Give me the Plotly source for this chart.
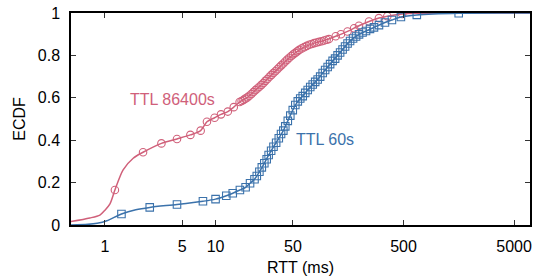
import plotly.graph_objects as go

# ---- data (RTT in ms, ECDF) ----
# TTL 86400s : smooth curve knots
red_line_x = [0.49, 0.73, 0.9, 1.0, 1.11, 1.23, 1.46, 1.8, 2.21, 3.24, 4.48, 5.92, 7.33, 8.36, 9.8,
              11.2, 12.9, 14.6, 16.5, 19.4, 22.9, 27.1, 32.0, 37.7, 44.5, 52.6, 63.4, 78.0, 95.9,
              122, 156, 198, 244, 300, 357, 487, 650, 7000]
red_line_y = [0.016, 0.033, 0.047, 0.07, 0.10, 0.165, 0.26, 0.315, 0.343, 0.385, 0.406, 0.425, 0.445,
              0.487, 0.506, 0.522, 0.535, 0.556, 0.58, 0.602, 0.636, 0.67, 0.708, 0.744, 0.78, 0.812,
              0.839, 0.858, 0.87, 0.89, 0.913, 0.94, 0.96, 0.976, 0.985, 0.995, 0.999, 1.0]
# TTL 86400s : marker positions
red_mark_x = [1.23, 2.21, 3.24, 4.48, 5.92, 7.33, 8.36, 9.8, 11.2, 12.9, 14.6,
              16.5, 17.2, 17.9, 18.6, 19.4, 20.2, 21.1, 22.0, 22.9, 23.9, 24.9, 26.0, 27.1, 28.2,
              29.4, 30.7, 32.0, 33.3, 34.7, 36.2, 37.7, 39.3, 41.0, 42.7, 44.5, 46.4, 48.4, 50.4,
              52.6, 54.8, 57.1, 60.2, 63.4, 66.8, 70.3, 74.0, 78.0, 82.1, 86.5, 91.1, 95.9, 101,
              106, 122, 136, 156, 179, 198, 244, 300, 357, 487]
red_mark_y = [0.165, 0.343, 0.385, 0.406, 0.425, 0.445, 0.487, 0.506, 0.522, 0.535, 0.556,
              0.58, 0.585, 0.59, 0.596, 0.602, 0.61, 0.618, 0.627, 0.636, 0.644, 0.652, 0.661, 0.67,
              0.68, 0.689, 0.699, 0.708, 0.717, 0.725, 0.735, 0.744, 0.753, 0.762, 0.771, 0.78,
              0.789, 0.797, 0.805, 0.812, 0.819, 0.826, 0.833, 0.839, 0.845, 0.85, 0.854, 0.858,
              0.861, 0.864, 0.867, 0.87, 0.874, 0.877, 0.89, 0.9, 0.913, 0.928, 0.94, 0.96,
              0.976, 0.985, 0.995]

# TTL 60s : smooth curve knots
blue_line_x = [0.49, 0.7, 0.85, 1.04, 1.41, 1.9, 2.54, 4.48, 7.69, 10.0, 12.5, 14.3, 16.6, 18.7, 20.5,
               22.5, 24.9, 27.6, 30.2, 33.4, 37.3, 41.0, 45.0, 49.9, 55.4, 61.4, 68.1, 75.6, 83.8,
               93.0, 103.2, 114.4, 126.9, 140.8, 156.2, 175.1, 198.3, 229.3, 270.7, 340.1, 393.2, 474,
               660, 1579, 7000]
blue_line_y = [0.0, 0.003, 0.008, 0.02, 0.052, 0.072, 0.083, 0.097, 0.112, 0.122, 0.138, 0.15, 0.165,
               0.178, 0.197, 0.216, 0.251, 0.291, 0.33, 0.369, 0.409, 0.445, 0.491, 0.542, 0.583, 0.608,
               0.637, 0.663, 0.686, 0.717, 0.745, 0.774, 0.80, 0.828, 0.856, 0.88, 0.899, 0.915, 0.932,
               0.955, 0.967, 0.981, 0.991, 0.999, 1.0]
# TTL 60s : marker positions
blue_mark_x = [1.41, 2.54, 4.48, 7.69, 10.0, 12.5, 14.3, 16.6, 18.7, 20.5, 22.5, 23.6, 24.9, 26.2, 27.6,
               29.0, 30.2, 31.8, 33.4, 35.3, 37.3, 39.1, 41.0, 42.7, 45.0, 47.4, 49.9, 52.6, 55.4, 58.3,
               61.4, 64.7, 68.1, 71.8, 75.6, 79.6, 83.8, 88.3, 93.0, 97.9, 103.2, 108.6, 114.4, 120.5,
               126.9, 133.7, 140.8, 148.3, 156.2, 164.5, 175.1, 186.4, 198.3, 213.3, 229.3, 249.1,
               270.7, 300.3, 340.1, 393.2, 474, 660, 1579]
blue_mark_y = [0.052, 0.083, 0.097, 0.112, 0.122, 0.138, 0.15, 0.165, 0.178, 0.197, 0.216, 0.231, 0.251,
               0.272, 0.291, 0.31, 0.33, 0.35, 0.369, 0.388, 0.409, 0.429, 0.445, 0.465, 0.491, 0.516,
               0.542, 0.566, 0.583, 0.597, 0.608, 0.623, 0.637, 0.651, 0.663, 0.675, 0.686, 0.70, 0.717,
               0.731, 0.745, 0.759, 0.774, 0.785, 0.80, 0.814, 0.828, 0.842, 0.856, 0.868, 0.88, 0.889,
               0.899, 0.908, 0.915, 0.925, 0.932, 0.943, 0.955, 0.967, 0.981, 0.991, 0.999]

x_tick_vals = [1, 5, 10, 50, 500, 5000]
x_tick_text = ["1", "5", "10", "50", "500", "5000"]
y_tick_vals = [0, 0.2, 0.4, 0.6, 0.8, 1]
y_tick_text = ["0", "0.2", "0.4", "0.6", "0.8", "1"]

RED = "#d0607a"
BLUE = "#3b72ab"
FONT = "Liberation Sans, Arial, sans-serif"

fig = go.Figure()
fig.add_trace(go.Scatter(x=red_line_x, y=red_line_y, mode="lines",
                         line=dict(color=RED, width=1.5, shape="spline", smoothing=0.8),
                         hoverinfo="skip", showlegend=False))
fig.add_trace(go.Scatter(x=red_mark_x, y=red_mark_y, mode="markers",
                         marker=dict(symbol="circle-open", size=7.5, color=RED, line=dict(width=1.1)),
                         showlegend=False))
fig.add_trace(go.Scatter(x=blue_line_x, y=blue_line_y, mode="lines",
                         line=dict(color=BLUE, width=1.5, shape="spline", smoothing=0.8),
                         hoverinfo="skip", showlegend=False))
fig.add_trace(go.Scatter(x=blue_mark_x, y=blue_mark_y, mode="markers",
                         marker=dict(symbol="square-open", size=7.5, color=BLUE, line=dict(width=1.1)),
                         showlegend=False))

fig.add_annotation(x=0.207, y=0.59, xref="x", yref="y", text="TTL 86400s", showarrow=False,
                   xanchor="left", yanchor="middle", font=dict(color=RED, size=16, family=FONT))
fig.add_annotation(x=1.712, y=0.405, xref="x", yref="y", text="TTL 60s", showarrow=False,
                   xanchor="left", yanchor="middle", font=dict(color=BLUE, size=16, family=FONT))

axis_common = dict(showline=True, linecolor="black", linewidth=1.5, mirror="ticks",
                   ticks="inside", ticklen=5, tickwidth=1, tickcolor="#333333",
                   showgrid=False, zeroline=False,
                   tickfont=dict(size=16, family=FONT, color="black"))

fig.update_xaxes(type="log", range=[-0.307, 3.843], tickvals=x_tick_vals, ticktext=x_tick_text,
                 title=dict(text="RTT (ms)", font=dict(size=16, family=FONT, color="black"), standoff=8),
                 ticklabelstandoff=6, **axis_common)
fig.update_yaxes(range=[0, 1], tickvals=y_tick_vals, ticktext=y_tick_text,
                 title=dict(text="ECDF", font=dict(size=16, family=FONT, color="black"), standoff=8),
                 ticklabelstandoff=6, **axis_common)

fig.update_layout(width=534, height=278, margin=dict(l=71, r=4, t=13, b=53, autoexpand=False),
                  plot_bgcolor="white", paper_bgcolor="white",
                  font=dict(family=FONT, color="black"))

fig.write_html("out.html", post_script="document.body.style.margin='0';",
               config={"displayModeBar": False})
